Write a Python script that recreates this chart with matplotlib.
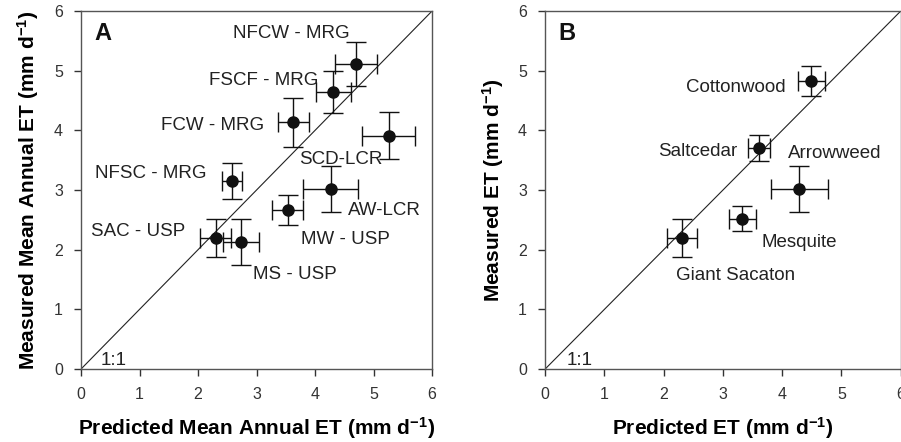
import matplotlib
matplotlib.use('Agg')
import matplotlib.pyplot as plt

plt.rcParams['font.family'] = ['Liberation Sans', 'DejaVu Sans']
plt.rcParams['mathtext.default'] = 'regular'

# panel A: sites
a_names = ['NFCW - MRG', 'FSCF - MRG', 'FCW - MRG', 'SCD-LCR', 'NFSC - MRG',
           'AW-LCR', 'MW - USP', 'SAC - USP', 'MS - USP']
a_pred = [4.70, 4.31, 3.63, 5.26, 2.58, 4.27, 3.53, 2.30, 2.73]
a_meas = [5.11, 4.64, 4.14, 3.91, 3.15, 3.02, 2.66, 2.20, 2.13]
a_xerr = [0.36, 0.30, 0.27, 0.45, 0.17, 0.47, 0.27, 0.26, 0.31]
a_yerr = [0.37, 0.35, 0.41, 0.39, 0.30, 0.39, 0.25, 0.32, 0.39]
a_lab_x = [3.60, 3.13, 2.25, 4.44, 1.19, 5.19, 4.52, 0.97, 3.66]
a_lab_y = [5.63, 4.84, 4.09, 3.51, 3.27, 2.66, 2.17, 2.30, 1.58]

# panel B: species
b_names = ['Cottonwood', 'Saltcedar', 'Arrowweed', 'Mesquite', 'Giant Sacaton']
b_pred = [4.49, 3.61, 4.29, 3.33, 2.31]
b_meas = [4.83, 3.70, 3.02, 2.52, 2.20]
b_xerr = [0.23, 0.19, 0.48, 0.225, 0.25]
b_yerr = [0.25, 0.22, 0.39, 0.21, 0.32]
b_lab_x = [3.22, 2.57, 4.89, 4.29, 3.21]
b_lab_y = [4.72, 3.64, 3.61, 2.12, 1.57]

fig = plt.figure(figsize=(9.01, 4.42), dpi=100)
ax1 = fig.add_axes([0.0899, 0.165, 0.3896, 0.81])
ax2 = fig.add_axes([0.605, 0.165, 0.3947, 0.81])


def panel(ax, pred, meas, xerr, yerr, names, lx, ly, letter, xlab, ylab, one_x):
    ax.plot([0, 6], [0, 6], color='#222222', lw=0.8)
    ax.errorbar(pred, meas, xerr=xerr, yerr=yerr, fmt='o', color='#111111',
                ms=8, capsize=7, elinewidth=1, capthick=1)
    for n, x, y in zip(names, lx, ly):
        ax.text(x, y, n, ha='center', va='center', fontsize=13.5, color='#222222')
    ax.text(one_x, 0.15, '1:1', ha='center', va='center', fontsize=13.5, color='#222222')
    ax.text(0.37, 5.62, letter, ha='center', va='center', fontsize=17,
            fontweight='bold', color='#111111')
    ax.set_xlim(0, 6)
    ax.set_ylim(0, 6)
    ax.set_xticks(range(7))
    ax.set_yticks(range(7))
    ax.tick_params(direction='out', length=5, width=1, labelsize=11.5,
                   colors='#333333', pad=8)
    for s in ax.spines.values():
        s.set_color('#555555')
        s.set_linewidth(1)
    ax.set_xlabel(xlab, fontsize=15, fontweight='bold', labelpad=9)
    ax.set_ylabel(ylab, fontsize=15, fontweight='bold', labelpad=9)


panel(ax1, a_pred, a_meas, a_xerr, a_yerr, a_names, a_lab_x, a_lab_y, 'A',
      r'Predicted Mean Annual ET (mm d$^{-1}$)',
      r'Measured Mean Annual ET (mm d$^{-1}$)', 0.55)
panel(ax2, b_pred, b_meas, b_xerr, b_yerr, b_names, b_lab_x, b_lab_y, 'B',
      r'Predicted ET (mm d$^{-1}$)',
      r'Measured ET (mm d$^{-1}$)', 0.58)

fig.savefig('out.png', dpi=100)
